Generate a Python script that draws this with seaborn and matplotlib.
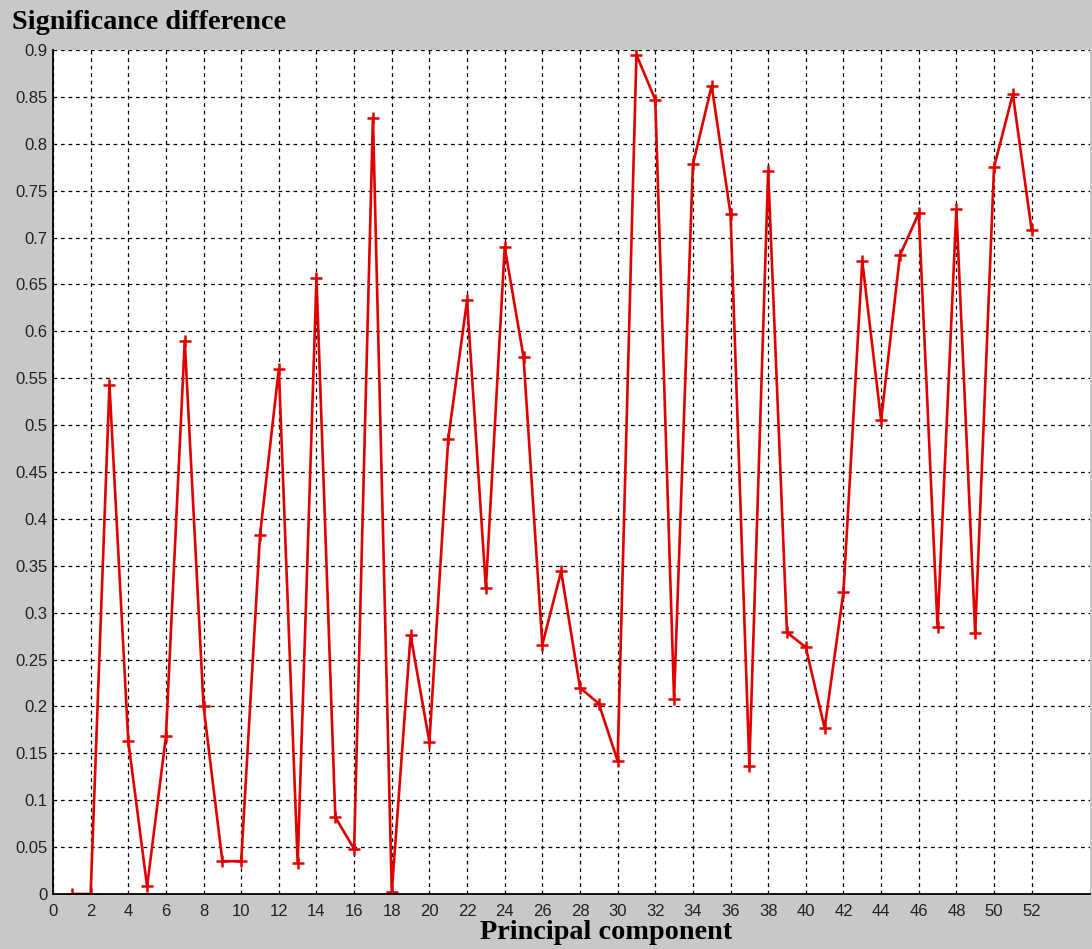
import matplotlib
matplotlib.use("Agg")
import matplotlib.pyplot as plt
import numpy as np
import pandas as pd
import seaborn as sns

# Significance difference for each principal component
components = list(range(1, 53))
significance = [
    0.000, 0.000, 0.543, 0.163, 0.008, 0.168, 0.590, 0.200, 0.035, 0.035,
    0.383, 0.560, 0.033, 0.657, 0.082, 0.048, 0.828, 0.002, 0.276, 0.162,
    0.485, 0.633, 0.326, 0.690, 0.573, 0.266, 0.344, 0.220, 0.203, 0.142,
    0.895, 0.847, 0.208, 0.778, 0.862, 0.725, 0.137, 0.771, 0.279, 0.263,
    0.177, 0.322, 0.675, 0.505, 0.681, 0.726, 0.285, 0.730, 0.278, 0.775,
    0.853, 0.708,
]
x_ticks = list(range(0, 53, 2))
y_ticks = [round(v * 0.05, 2) for v in range(0, 19)]
y_tick_labels = ["0", "0.05", "0.1", "0.15", "0.2", "0.25", "0.3", "0.35", "0.4",
                 "0.45", "0.5", "0.55", "0.6", "0.65", "0.7", "0.75", "0.8",
                 "0.85", "0.9"]

df = pd.DataFrame({"component": components, "significance": significance})

sns.set_style("white")
plt.rcParams["font.family"] = ["Liberation Sans", "DejaVu Sans"]

bg = "#c8c8c8"
fig = plt.figure(figsize=(10.92, 9.49), dpi=100, facecolor=bg)
ax = fig.add_axes([53 / 1092, 1 - 894 / 949, (1090 - 53) / 1092, (894 - 50) / 949])
ax.set_facecolor("white")

sns.lineplot(data=df, x="component", y="significance", ax=ax,
             color="#e00000", linewidth=1.9, marker="+", markersize=9,
             markeredgewidth=1.8, markeredgecolor="#e00000")

ax.set_xlim(0, 55.1)
ax.set_ylim(0, 0.9)
ax.set_xticks(x_ticks)
ax.set_xticklabels([str(t) for t in x_ticks])
ax.set_yticks(y_ticks)
ax.set_yticklabels(y_tick_labels)
ax.set_xlabel("")
ax.set_ylabel("")

ax.grid(True, color="black", linestyle=(0, (3, 3)), linewidth=0.9)
ax.set_axisbelow(True)
ax.tick_params(axis="both", direction="in", length=6, width=1, color="black",
               labelsize=12, labelcolor="#222222")
ax.tick_params(axis="x", pad=7)
ax.tick_params(axis="y", pad=4)

for side in ("top", "right"):
    ax.spines[side].set_visible(False)
for side in ("left", "bottom"):
    ax.spines[side].set_color("black")
    ax.spines[side].set_linewidth(1.3)

fig.text(12 / 1092, 1 - 29 / 949, "Significance difference",
         family=["Liberation Serif", "DejaVu Serif"], fontweight="bold",
         fontsize=20.3, ha="left", va="baseline", color="black")
fig.text(606 / 1092, 1 - 939 / 949, "Principal component",
         family=["Liberation Serif", "DejaVu Serif"], fontweight="bold",
         fontsize=20.3, ha="center", va="baseline", color="black")

fig.savefig("out.png", dpi=100, facecolor=bg)
